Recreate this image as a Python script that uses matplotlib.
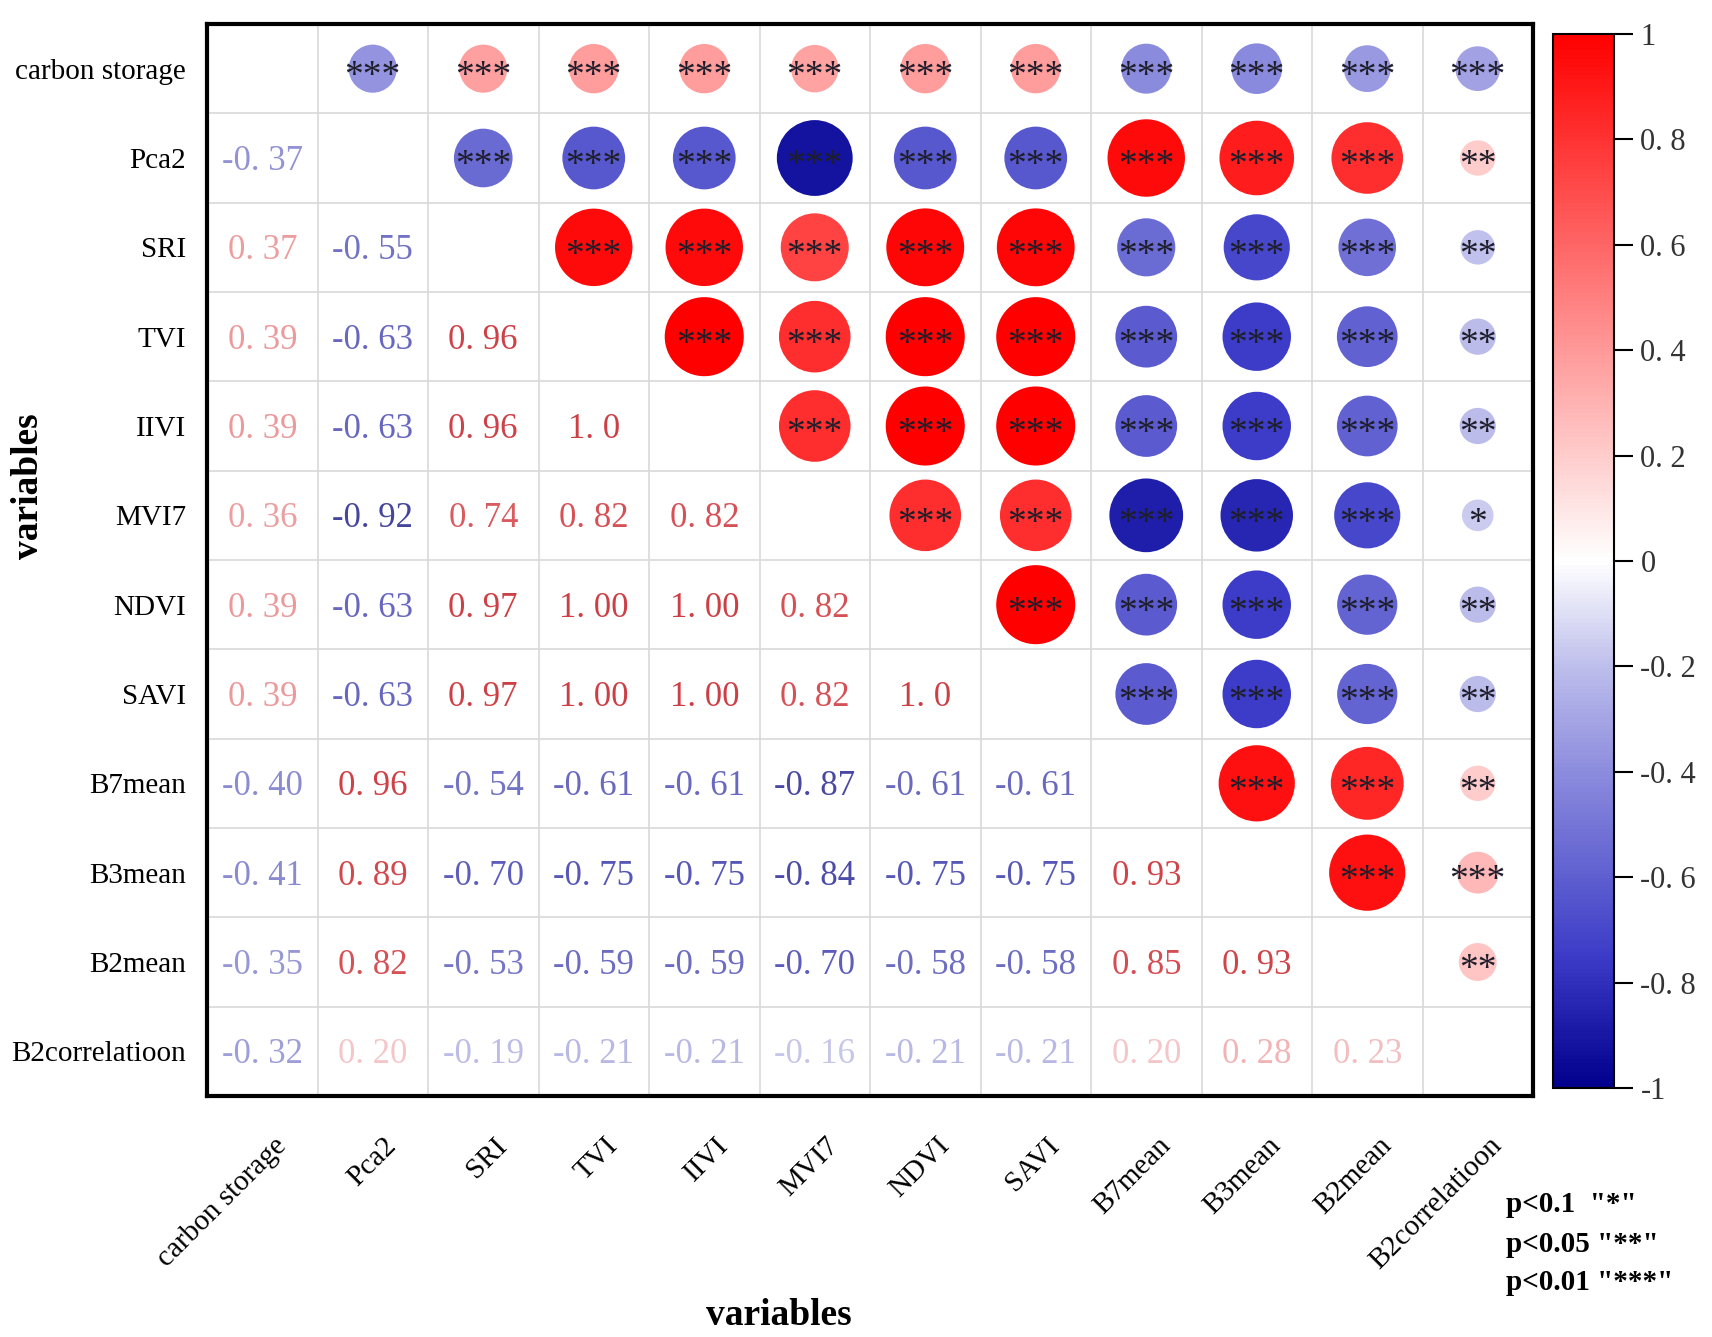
import numpy as np
import matplotlib.pyplot as plt
from matplotlib.colors import LinearSegmentedColormap, Normalize
from matplotlib.cm import ScalarMappable
from matplotlib.transforms import ScaledTranslation

plt.rcParams['font.family'] = ['Liberation Serif', 'DejaVu Serif']

variables = ["carbon storage", "Pca2", "SRI", "TVI", "IIVI", "MVI7", "NDVI",
             "SAVI", "B7mean", "B3mean", "B2mean", "B2correlatioon"]

# lower triangle as printed (row i, columns 0..i-1)
lower_text = [
    [],
    ["-0.37"],
    ["0.37", "-0.55"],
    ["0.39", "-0.63", "0.96"],
    ["0.39", "-0.63", "0.96", "1.0"],
    ["0.36", "-0.92", "0.74", "0.82", "0.82"],
    ["0.39", "-0.63", "0.97", "1.00", "1.00", "0.82"],
    ["0.39", "-0.63", "0.97", "1.00", "1.00", "0.82", "1.0"],
    ["-0.40", "0.96", "-0.54", "-0.61", "-0.61", "-0.87", "-0.61", "-0.61"],
    ["-0.41", "0.89", "-0.70", "-0.75", "-0.75", "-0.84", "-0.75", "-0.75", "0.93"],
    ["-0.35", "0.82", "-0.53", "-0.59", "-0.59", "-0.70", "-0.58", "-0.58", "0.85", "0.93"],
    ["-0.32", "0.20", "-0.19", "-0.21", "-0.21", "-0.16", "-0.21", "-0.21", "0.20", "0.28", "0.23"],
]

# significance marks of the upper triangle (row i, columns i+1..11)
upper_stars = [
    ["***"] * 11,
    ["***"] * 9 + ["**"],
    ["***"] * 8 + ["**"],
    ["***"] * 7 + ["**"],
    ["***"] * 6 + ["**"],
    ["***"] * 5 + ["*"],
    ["***"] * 4 + ["**"],
    ["***"] * 3 + ["**"],
    ["***"] * 2 + ["**"],
    ["***"] * 1 + ["***"],
    ["**"],
    [],
]

cbar_ticks = [-1, -0.8, -0.6, -0.4, -0.2, 0, 0.2, 0.4, 0.6, 0.8, 1]
cbar_labels = ["-1", "-0. 8", "-0. 6", "-0. 4", "-0. 2", "0",
               "0. 2", "0. 4", "0. 6", "0. 8", "1"]

n = len(variables)
corr = np.eye(n)
for i, row in enumerate(lower_text):
    for j, t in enumerate(row):
        corr[i, j] = corr[j, i] = float(t)

cmap = LinearSegmentedColormap.from_list(
    "corr", [(0.0, "#00008c"), (0.125, "#3c3cc8"), (0.2, "#5f5fd0"),
             (0.3, "#8c8cde"), (0.4, "#bebeec"), (0.5, "#ffffff"),
             (0.75, "#ff8080"), (1.0, "#ff0000")])
norm = Normalize(vmin=-1, vmax=1)


def text_colour(v):
    # printed numbers are a muted version of the circle colour
    c = np.array(cmap(norm(v))[:3])
    w = 0.45 * abs(v)
    return tuple((1 - w) * c + w * np.array([0.55, 0.55, 0.6]))


fig = plt.figure(figsize=(17.12, 13.37), dpi=100)
ax = fig.add_axes([207 / 1712, 1 - 1096 / 1337, 1326 / 1712, 1072 / 1337])

ax.set_xlim(-0.5, n - 0.5)
ax.set_ylim(n - 0.5, -0.5)

xs, ys, vals = [], [], []
for i in range(n):
    for j in range(i + 1, n):
        xs.append(j)
        ys.append(i)
        vals.append(corr[i, j])
vals = np.array(vals)
ax.scatter(xs, ys, s=3240 * np.abs(vals), c=vals, cmap=cmap, norm=norm,
           linewidths=0, zorder=3)

for i, row in enumerate(upper_stars):
    for k, st in enumerate(row):
        j = i + 1 + k
        ax.text(j, i + 0.09, st, ha='center', va='center', fontsize=27,
                color='#1e1e2a', zorder=4)

for i, row in enumerate(lower_text):
    for j, t in enumerate(row):
        ax.text(j, i + 0.04, t.replace('.', '. '), ha='center', va='center',
                fontsize=25, color=text_colour(float(t)), zorder=4)

ax.set_xticks(np.arange(-0.5, n, 1), minor=True)
ax.set_yticks(np.arange(-0.5, n, 1), minor=True)
ax.grid(which='minor', color='#d9d9d9', linewidth=1.2)
ax.set_axisbelow(True)

ax.set_xticks(range(n))
ax.set_yticks(range(n))
ax.set_yticklabels(variables, fontsize=21)
ax.set_xticklabels(variables, fontsize=21, rotation=45, ha='right',
                   va='center', rotation_mode='anchor')
ax.tick_params(which='both', length=0)
ax.tick_params(axis='y', pad=15)
ax.tick_params(axis='x', pad=33)
shift = ScaledTranslation(0.2, 0, fig.dpi_scale_trans)
for lab in ax.get_xticklabels():
    lab.set_transform(lab.get_transform() + shift)

for sp in ax.spines.values():
    sp.set_linewidth(3)

cax = fig.add_axes([1553 / 1712, 1 - 1088 / 1337, 61 / 1712, 1054 / 1337])
sm = ScalarMappable(norm=norm, cmap=cmap)
cb = fig.colorbar(sm, cax=cax, ticks=cbar_ticks)
cb.ax.set_yticklabels(cbar_labels)
cb.outline.set_linewidth(1.5)
cb.ax.tick_params(length=14, width=1.5, pad=5, labelsize=22, labelcolor='#333333')

fig.text(29 / 1712, 1 - 486 / 1337, "variables", rotation=90, ha='center',
         va='center', fontsize=27, weight='bold')
fig.text(779 / 1712, 1 - 1325 / 1337, "variables", ha='center',
         va='baseline', fontsize=27, weight='bold')

legend_lines = ['p<0.1  "*"', 'p<0.05 "**"', 'p<0.01 "***"']
for k, line in enumerate(legend_lines):
    fig.text(1506 / 1712, 1 - (1205 + 39 * k) / 1337, line, ha='left',
             va='center', fontsize=21, weight='bold')

fig.savefig("out.png", dpi=100)
